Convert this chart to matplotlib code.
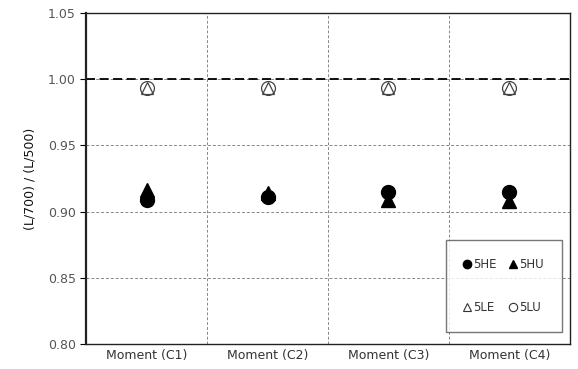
import matplotlib.pyplot as plt
from matplotlib.lines import Line2D
import numpy as np

categories = ['Moment (C1)', 'Moment (C2)', 'Moment (C3)', 'Moment (C4)']
he_5 = [0.909, 0.911, 0.915, 0.915]
hu_5 = [0.916, 0.914, 0.909, 0.908]
le_5 = [0.993, 0.993, 0.993, 0.993]
lu_5 = [0.993, 0.993, 0.993, 0.993]

x = np.arange(1, len(categories) + 1)

fig = plt.figure(figsize=(5.78, 3.69), dpi=100)
ax = fig.add_axes([0.149, 0.068, 0.837, 0.897])

# reference line at 1.0
ax.axhline(1.0, color='black', lw=1.3, ls=(0, (5, 2.5)), zorder=2)

ax.plot(x, lu_5, 'o', ms=10, mfc='white', mec='#444444', mew=0.9, zorder=3)
ax.plot(x, le_5, '^', ms=9, mfc='none', mec='#444444', mew=0.9, zorder=4)
ax.plot(x, hu_5, '^', ms=10, color='black', zorder=3)
ax.plot(x, he_5, 'o', ms=10, color='black', zorder=4)

ax.set_xlim(0.5, 4.5)
ax.set_ylim(0.80, 1.05)
ax.set_yticks(np.arange(0.80, 1.051, 0.05))
ax.set_yticklabels(['%.2f' % v for v in np.arange(0.80, 1.051, 0.05)])
ax.set_xticks(x)
ax.set_xticklabels(categories)
ax.set_xticks([1.5, 2.5, 3.5], minor=True)

ax.grid(True, which='major', axis='y', color='#888888', ls=(0, (3, 2)), lw=0.7)
ax.grid(True, which='minor', axis='x', color='#888888', ls=(0, (3, 2)), lw=0.7)
ax.tick_params(axis='x', which='both', length=0, labelsize=9, colors='#333333', pad=4)
ax.tick_params(axis='y', length=4, direction='out', labelsize=9, colors='#555555')
ax.tick_params(axis='y', color='black')
for s in ax.spines.values():
    s.set_color('#222222')
    s.set_linewidth(1.0)
ax.spines['left'].set_linewidth(1.6)

ax.set_ylabel('(L/700) / (L/500)', fontsize=9, color='#111111', labelpad=8)

handles = [
    Line2D([], [], marker='o', ls='none', color='black', ms=6),
    Line2D([], [], marker='^', ls='none', mfc='white', mec='#333333', ms=6, mew=0.8),
    Line2D([], [], marker='^', ls='none', color='black', ms=6),
    Line2D([], [], marker='o', ls='none', mfc='white', mec='#333333', ms=6, mew=0.8),
]
labels = ['5HE', '5LE', '5HU', '5LU']
leg = ax.legend(handles, labels, ncol=2, loc='lower right', bbox_to_anchor=(0.99, 0.025),
                fontsize=8.5, frameon=True, fancybox=False, edgecolor='#555555',
                handlelength=0.6, handletextpad=0.2, columnspacing=1.1,
                labelspacing=2.6, borderpad=1.5, borderaxespad=0.3)
leg.get_frame().set_linewidth(1.0)
for t in leg.get_texts():
    t.set_color('#333333')

fig.savefig('out.png', dpi=100)
